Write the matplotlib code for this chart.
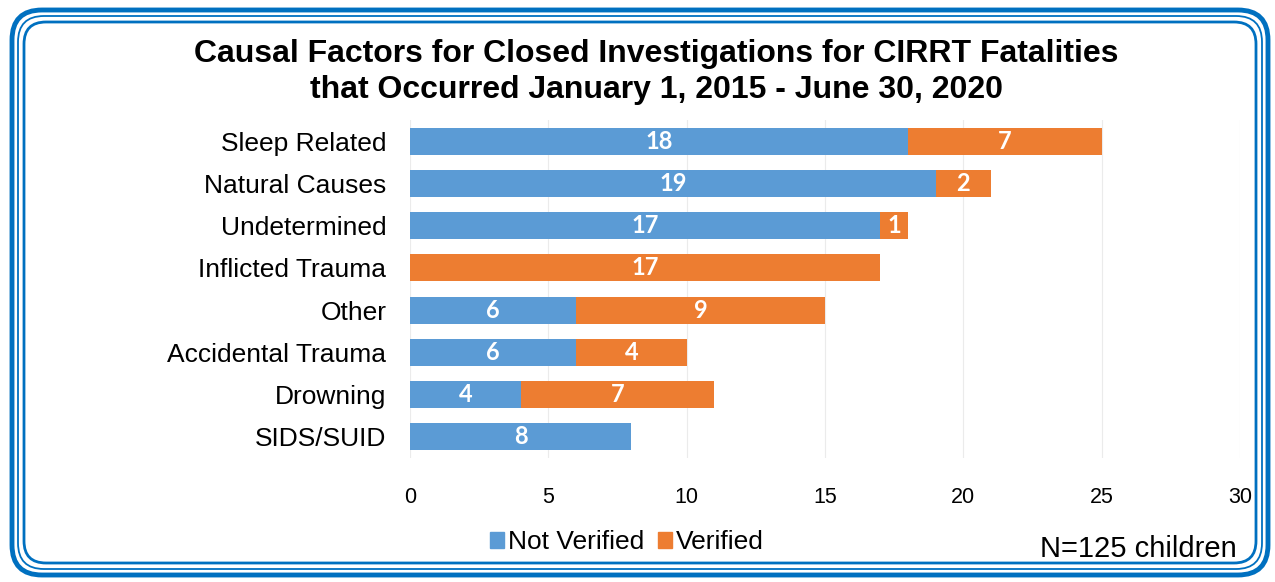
import matplotlib
matplotlib.use("Agg")
import matplotlib.pyplot as plt
from matplotlib.patches import FancyBboxPatch, Patch
import numpy as np

categories = ["Sleep Related", "Natural Causes", "Undetermined", "Inflicted Trauma",
              "Other", "Accidental Trauma", "Drowning", "SIDS/SUID"]
not_verified = [18, 19, 17, 0, 6, 6, 4, 8]
verified = [7, 2, 1, 17, 9, 4, 7, 0]
xticks = [0, 5, 10, 15, 20, 25, 30]

BLUE = "#5B9BD5"
ORANGE = "#ED7D31"
BORDER = "#0070C0"

plt.rcParams['font.family'] = ['Liberation Sans', 'DejaVu Sans']

W, H = 1275, 582
fig = plt.figure(figsize=(W/100, H/100), dpi=100)

# Border (triple line rounded frame)
def frame(x0, y0, x1, y1, lw, r):
    p = FancyBboxPatch((x0/W, 1-y1/H), (x1-x0)/W, (y1-y0)/H,
                       boxstyle=f"round,pad=0,rounding_size={r/W}",
                       transform=fig.transFigure, fill=False,
                       edgecolor=BORDER, linewidth=lw,
                       mutation_aspect=W/H)
    fig.patches.append(p)

frame(12, 10, 1268, 575, 3.5, 30)
frame(18, 16, 1262, 569, 1.3, 26)
frame(24, 22, 1256, 563, 2.0, 22)

ax = fig.add_axes([410/W, 1-458/H, (1240-410)/W, (458-120)/H])
y = np.arange(len(categories))
ax.barh(y, not_verified, height=0.64, color=BLUE, label="Not Verified")
ax.barh(y, verified, left=not_verified, height=0.64, color=ORANGE, label="Verified")

for i in range(len(categories)):
    nv, v = not_verified[i], verified[i]
    if nv > 0:
        ax.text(nv/2, i, str(nv), ha='center', va='center', color='white',
                fontsize=17, fontweight='bold', family=['Lato', 'DejaVu Sans'])
    if v > 0:
        ax.text(nv + v/2, i, str(v), ha='center', va='center', color='white',
                fontsize=17, fontweight='bold', family=['Lato', 'DejaVu Sans'])

ax.set_xlim(0, 30)
ax.set_ylim(len(categories)-0.5, -0.5)
ax.set_xticks(xticks)
ax.set_xticklabels([str(t) for t in xticks], fontsize=15.5)
ax.set_yticks(y)
ax.set_yticklabels(categories, fontsize=19)
ax.tick_params(axis='both', length=0)
ax.tick_params(axis='x', pad=21)
ax.tick_params(axis='y', pad=17)
for s in ax.spines.values():
    s.set_visible(False)
ax.grid(axis='x', color='#EBEBEB', linewidth=0.8)
ax.set_axisbelow(True)

fig.text(656/W, 1-72/H, "Causal Factors for Closed Investigations for CIRRT Fatalities\nthat Occurred January 1, 2015 - June 30, 2020",
         ha='center', va='center', fontsize=23, fontweight='bold', linespacing=1.25)

handles = [Patch(color=BLUE, label="Not Verified"), Patch(color=ORANGE, label="Verified")]
fig.legend(handles=handles, loc='center', bbox_to_anchor=(627/W, 1-542/H), ncol=2,
           frameon=False, fontsize=19, handlelength=0.55, handleheight=0.55,
           handletextpad=0.15, columnspacing=0.5)

fig.text(1237/W, 1-549/H, "N=125 children", ha='right', va='center', fontsize=21)

fig.savefig("out.png", dpi=100)
